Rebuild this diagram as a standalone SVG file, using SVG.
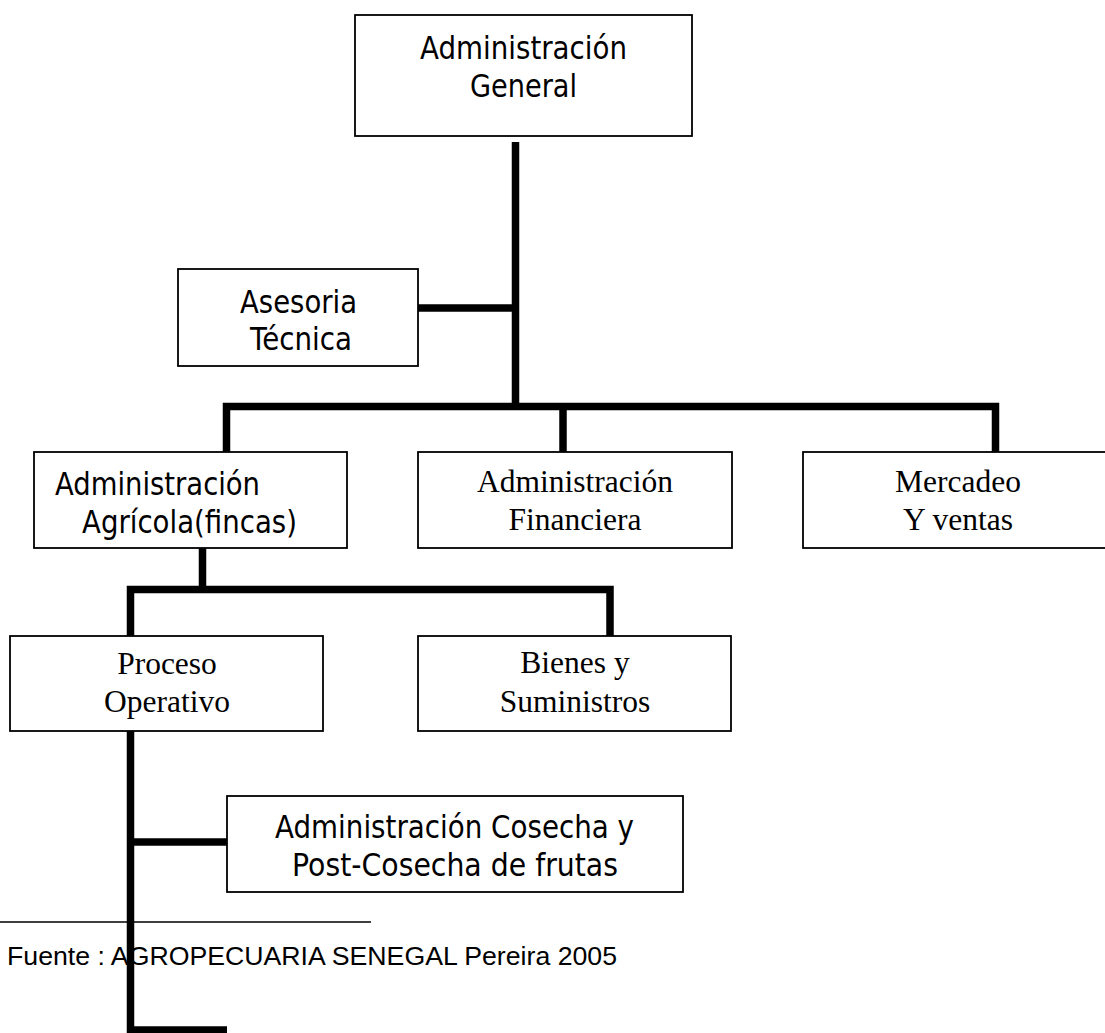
<svg xmlns="http://www.w3.org/2000/svg" width="1105" height="1033" viewBox="0 0 1105 1033">
<style>
.box{fill:#fff;stroke:#000;stroke-width:1.8}
.sans{font-family:"DejaVu Sans","Liberation Sans",sans-serif;font-size:32px;fill:#000}
.serif{font-family:"Liberation Serif","DejaVu Serif",serif;font-size:31.5px;fill:#000}
.c{text-anchor:middle}
.conn{fill:none;stroke:#000;stroke-width:7.5;stroke-linejoin:miter;stroke-linecap:butt}
.foot{font-family:"Liberation Sans",Arial,sans-serif;font-size:25px;fill:#000}
</style>
<rect width="1105" height="1033" fill="#fff"/>
<g id="footnote">
<line x1="0" y1="922" x2="371" y2="922" stroke="#000" stroke-width="1.6"/>
<text class="foot" x="7" y="965" textLength="610" lengthAdjust="spacingAndGlyphs">Fuente : AGROPECUARIA SENEGAL Pereira 2005</text>
</g>
<g id="n-admin-general">
<rect class="box" x="355" y="15" width="337" height="121"/>
<text class="sans c" x="523.5" y="59" textLength="207" lengthAdjust="spacingAndGlyphs">Administración</text>
<text class="sans c" x="523.5" y="97" textLength="107" lengthAdjust="spacingAndGlyphs">General</text>
</g>
<g id="n-asesoria">
<rect class="box" x="178" y="269" width="240" height="97"/>
<text class="sans c" x="298.5" y="313" textLength="117" lengthAdjust="spacingAndGlyphs">Asesoria</text>
<text class="sans c" x="301" y="350" textLength="102" lengthAdjust="spacingAndGlyphs">Técnica</text>
</g>
<g id="n-agricola">
<rect class="box" x="34" y="452" width="313" height="96"/>
<text class="sans" x="55" y="495" textLength="205" lengthAdjust="spacingAndGlyphs">Administración</text>
<text class="sans" x="82" y="533" textLength="215" lengthAdjust="spacingAndGlyphs">Agrícola(fincas)</text>
</g>
<g id="n-financiera">
<rect class="box" x="418" y="452" width="314" height="96"/>
<text class="serif c" x="575" y="492">Administración</text>
<text class="serif c" x="575" y="530">Financiera</text>
</g>
<g id="n-mercadeo">
<rect class="box" x="803" y="452" width="310" height="96"/>
<text class="serif c" x="958" y="492">Mercadeo</text>
<text class="serif c" x="958" y="530">Y ventas</text>
</g>
<g id="n-proceso">
<rect class="box" x="10" y="636" width="313" height="95"/>
<text class="serif c" x="167" y="674">Proceso</text>
<text class="serif c" x="167" y="712">Operativo</text>
</g>
<g id="n-bienes">
<rect class="box" x="418" y="636" width="313" height="95"/>
<text class="serif c" x="575" y="673">Bienes y</text>
<text class="serif c" x="575" y="712">Suministros</text>
</g>
<g id="n-cosecha">
<rect class="box" x="227" y="796" width="456" height="96"/>
<text class="sans c" x="454.5" y="838" textLength="359" lengthAdjust="spacingAndGlyphs">Administración Cosecha y</text>
<text class="sans c" x="455" y="876" textLength="326" lengthAdjust="spacingAndGlyphs">Post-Cosecha de frutas</text>
</g>
<g id="connectors">
<path class="conn" d="M515.5,142 V406.5"/>
<path class="conn" d="M418,308 H515.5"/>
<path class="conn" d="M226.5,452 V406.5 H995.5 V452"/>
<path class="conn" d="M563,406.5 V452"/>
<path class="conn" d="M202.5,548 V589.5"/>
<path class="conn" d="M130.5,636 V589.5 H610 V636"/>
<path class="conn" d="M130.5,731 V1033"/>
<path class="conn" d="M130.5,842 H227"/>
<path class="conn" d="M130.5,1030 H227"/>
</g>
</svg>
